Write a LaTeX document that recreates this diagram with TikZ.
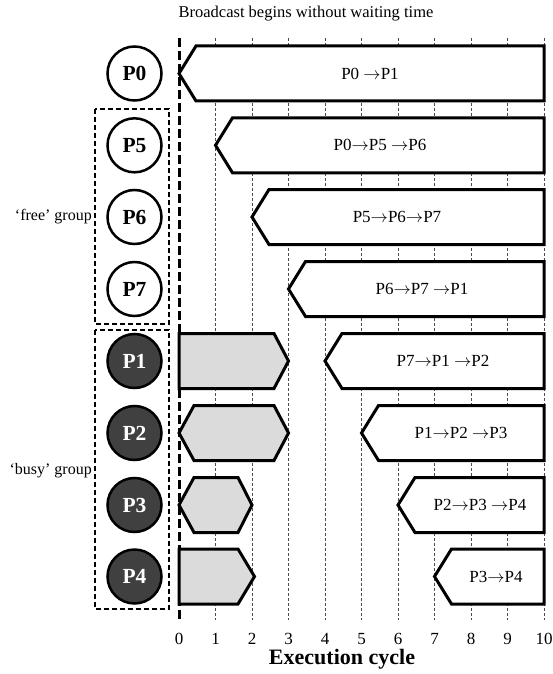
\documentclass[tikz,border=0pt]{standalone}
\usepackage{fontspec}
\setmainfont{Liberation Serif}
\newcommand\ar{\ensuremath{\rightarrow}}
\begin{document}
\begin{tikzpicture}[x=1pt,y=-1pt,
  pcirc/.style={circle, draw=black, line width=2.5pt, minimum size=54pt, inner sep=0pt,
    font=\fontsize{21.5}{21.5}\selectfont\bfseries},
  freec/.style={pcirc, fill=white, text=black},
  busyc/.style={pcirc, fill=black!75, text=white},
  wbar/.style={draw=black, line width=3pt, fill=white, line join=miter},
  gbar/.style={draw=black, line width=3pt, fill=black!14, line join=miter},
  blabel/.style={font=\fontsize{17}{17}\selectfont, inner sep=0pt},
  grpbox/.style={draw=black, line width=1.5pt, dash pattern=on 5pt off 3pt},
  grplabel/.style={font=\fontsize{16}{16}\selectfont, inner sep=0pt, anchor=east},
  gridline/.style={draw=black!70, line width=0.6pt, dash pattern=on 3pt off 2pt},
  zeroline/.style={draw=black, line width=3pt, dash pattern=on 9pt off 4pt},
  ticklabel/.style={font=\fontsize{17}{17}\selectfont, inner sep=0pt},
]
\useasboundingbox (0,0) rectangle (553,674);

% grid
\foreach \k in {1,...,10}
  \draw[gridline] ({179+36.5*\k},38) -- ({179+36.5*\k},620);
\draw[zeroline] (179,38) -- (179,620);

% group boxes
\draw[grpbox] (95,109) rectangle (169,324);
\draw[grpbox] (95,330) rectangle (169,609);
\node[grplabel] (freelbl) at (92,217) {‘free’ group};
\node[grplabel] (busylbl) at (92,471) {‘busy’ group};

% title
\node[font=\fontsize{16.5}{16.5}\selectfont, inner sep=0pt] (title) at (306,14) {Broadcast begins without waiting time};

% processor circles
\node[freec] (p0) at (134.5,73.5) {P0};
\node[freec] (p5) at (134.5,145.3) {P5};
\node[freec] (p6) at (134.5,217) {P6};
\node[freec] (p7) at (134.5,289) {P7};
\node[busyc] (p1) at (134.5,361) {P1};
\node[busyc] (p2) at (134.5,433) {P2};
\node[busyc] (p3) at (134.5,505) {P3};
\node[busyc] (p4) at (134.5,576.5) {P4};

% white broadcast bars: start cycle, row y, label x, label, name
\newcommand\wbarrow[5]{%
  \draw[wbar] ({179+36.5*#1},{#2}) -- ({179+36.5*#1+17},{#2-27.5}) -- (544,{#2-27.5})
     -- (544,{#2+27.5}) -- ({179+36.5*#1+17},{#2+27.5}) -- cycle;
  \node[blabel] (#5) at (#3,{#2}) {#4};}
\wbarrow{0}{73.5}{370}{P0 \ar P1}{b0}
\wbarrow{1}{145.3}{380}{P0\ar P5 \ar P6}{b5}
\wbarrow{2}{217}{397}{P5\ar P6\ar P7}{b6}
\wbarrow{3}{289}{422}{P6\ar P7 \ar P1}{b7}
\wbarrow{4}{361}{443}{P7\ar P1 \ar P2}{b1}
\wbarrow{5}{433}{461}{P1\ar P2 \ar P3}{b2}
\wbarrow{6}{505}{480}{P2\ar P3 \ar P4}{b3}
\wbarrow{7}{576.5}{496}{P3\ar P4}{b4}

% gray busy bars
\draw[gbar] (179,333.5) -- (274,333.5) -- (288.5,361) -- (274,388.5) -- (179,388.5) -- cycle;
\draw[gbar] (179,433) -- (194,405.5) -- (274,405.5) -- (288.5,433) -- (274,460.5) -- (194,460.5) -- cycle;
\draw[gbar] (179,505) -- (194,477.5) -- (238,477.5) -- (252,505) -- (238,532.5) -- (194,532.5) -- cycle;
\draw[gbar] (179,549) -- (238,549) -- (254.5,576.5) -- (238,604) -- (179,604) -- cycle;

% axis
\foreach \k in {0,...,10}
  \node[ticklabel] (t\k) at ({179+36.5*\k},639) {\k};
\node[font=\fontsize{22}{22}\selectfont\bfseries, inner sep=0pt] (xlabel) at (342,659) {Execution cycle};
\end{tikzpicture}
\end{document}
